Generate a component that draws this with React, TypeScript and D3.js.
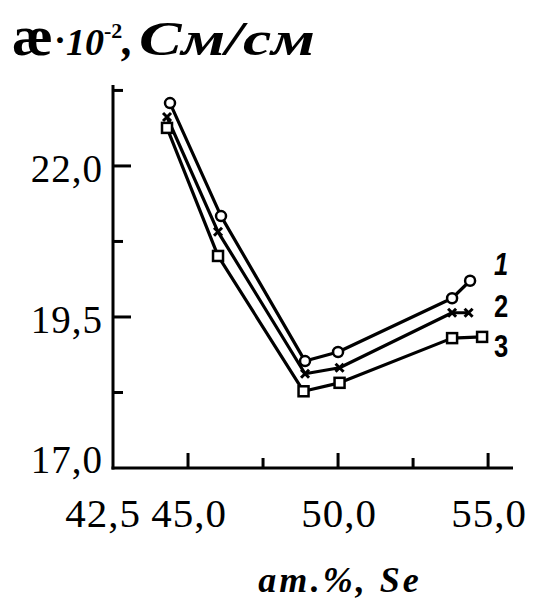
import React, { useEffect, useRef } from "react";
import * as d3 from "d3";

// composition, at.% Se, and conductivity (x 10^-2 S/cm) for the three curves
const se1 = [44.4, 46.1, 48.9, 50.0, 53.8, 54.4];
const cond1 = [23.04, 21.17, 18.77, 18.92, 19.81, 20.1];
const se2 = [44.3, 46.0, 48.9, 50.05, 53.8, 54.35];
const cond2 = [22.81, 20.91, 18.56, 18.66, 19.57, 19.57];
const se3 = [44.3, 46.0, 48.85, 50.05, 53.8, 54.8];
const cond3 = [22.63, 20.51, 18.27, 18.41, 19.15, 19.17];

const curveNames = ["1", "2", "3"];
const yTicks = [17.0, 19.5, 22.0];
const yMinorTicks = [18.25, 20.75, 23.25];
const xTicks = [42.5, 45.0, 50.0, 55.0];
const xTickMarks = [45.0, 47.5, 50.0, 52.5, 55.0];

const fmt = (v: number) => v.toFixed(1).replace(".", ",");

const App = () => {
  const ref = useRef<SVGSVGElement>(null);

  useEffect(() => {
    const svg = d3.select(ref.current);
    svg.selectAll("*").remove();

    const x = d3.scaleLinear().domain([42.5, 55.83]).range([113, 513]);
    const y = d3.scaleLinear().domain([17, 23.34]).range([468, 85]);

    const serif = "'Liberation Serif', 'Times New Roman', serif";

    // title: æ·10^-2, См/см
    svg.append("text")
      .attr("x", 12).attr("y", 55)
      .attr("font-family", serif).attr("font-weight", "bold")
      .attr("font-size", 58)
      .attr("textLength", 41).attr("lengthAdjust", "spacingAndGlyphs")
      .attr("fill", "#000")
      .text("æ");
    const mid = svg.append("text")
      .attr("x", 54).attr("y", 55)
      .attr("font-family", serif).attr("font-weight", "bold")
      .attr("fill", "#000");
    mid.append("tspan").attr("font-size", 36).attr("dy", -3).text("·");
    mid.append("tspan").attr("font-size", 38).attr("font-style", "italic").attr("dy", 3).text("10");
    mid.append("tspan").attr("font-size", 22).attr("dy", -17).text("-2");
    mid.append("tspan").attr("font-size", 44).attr("font-style", "italic").attr("dy", 17).text(",");
    svg.append("text")
      .attr("x", 139).attr("y", 55)
      .attr("font-family", serif).attr("font-weight", "bold").attr("font-style", "italic")
      .attr("font-size", 48)
      .attr("textLength", 176).attr("lengthAdjust", "spacingAndGlyphs")
      .attr("fill", "#000")
      .text("См/см");

    // axes lines
    svg.append("line")
      .attr("x1", x(42.5)).attr("x2", x(42.5))
      .attr("y1", y(23.34)).attr("y2", y(17) + 1.5)
      .attr("stroke", "#000").attr("stroke-width", 3);
    svg.append("line")
      .attr("x1", x(42.5) - 1.5).attr("x2", x(55.83))
      .attr("y1", y(17)).attr("y2", y(17))
      .attr("stroke", "#000").attr("stroke-width", 3);

    // y ticks (inward)
    svg.selectAll(".ytick")
      .data(yTicks.filter(d => d > 17))
      .enter().append("line")
      .attr("x1", x(42.5)).attr("x2", x(42.5) + 18)
      .attr("y1", d => y(d)).attr("y2", d => y(d))
      .attr("stroke", "#000").attr("stroke-width", 3);
    svg.selectAll(".yminor")
      .data(yMinorTicks)
      .enter().append("line")
      .attr("x1", x(42.5)).attr("x2", x(42.5) + 10)
      .attr("y1", d => y(d)).attr("y2", d => y(d))
      .attr("stroke", "#000").attr("stroke-width", 3);
    svg.selectAll(".ylabel")
      .data(yTicks)
      .enter().append("text")
      .attr("x", 103)
      .attr("y", d => (d === 17 ? y(d) + 5 : y(d) + 16))
      .attr("text-anchor", "end")
      .attr("font-family", serif)
      .attr("font-size", 39)
      .attr("letter-spacing", 1)
      .attr("fill", "#000")
      .text(d => fmt(d));

    // x ticks (inward)
    svg.selectAll(".xtick")
      .data(xTickMarks)
      .enter().append("line")
      .attr("x1", d => x(d)).attr("x2", d => x(d))
      .attr("y1", y(17)).attr("y2", d => y(17) - (d % 5 === 0 ? 15 : 10))
      .attr("stroke", "#000").attr("stroke-width", 3);
    svg.selectAll(".xlabel")
      .data(xTicks)
      .enter().append("text")
      .attr("x", d => (d === 42.5 ? x(d) - 10 : x(d) + 1))
      .attr("y", 527)
      .attr("text-anchor", "middle")
      .attr("font-family", serif)
      .attr("font-size", 41)
      .attr("letter-spacing", 1)
      .attr("fill", "#000")
      .text(d => fmt(d));

    // x axis title
    svg.append("text")
      .attr("x", 340)
      .attr("y", 592)
      .attr("text-anchor", "middle")
      .attr("font-family", serif)
      .attr("font-size", 36)
      .attr("font-weight", "bold")
      .attr("font-style", "italic")
      .attr("letter-spacing", 3)
      .attr("fill", "#000")
      .text("ат.%, Se");

    // curves
    const series = [
      { xs: se1, ys: cond1, marker: "circle" },
      { xs: se2, ys: cond2, marker: "cross" },
      { xs: se3, ys: cond3, marker: "square" },
    ];
    const line = d3.line<[number, number]>()
      .x(d => x(d[0]))
      .y(d => y(d[1]));

    series.forEach((s, i) => {
      const pts: [number, number][] = s.xs.map((v, j) => [v, s.ys[j]]);
      svg.append("path")
        .attr("d", line(pts))
        .attr("fill", "none")
        .attr("stroke", "#000")
        .attr("stroke-width", 3.2)
        .attr("stroke-linejoin", "round");

      const g = svg.append("g");
      pts.forEach(p => {
        const cx = x(p[0]);
        const cy = y(p[1]);
        if (s.marker === "circle") {
          g.append("circle")
            .attr("cx", cx).attr("cy", cy).attr("r", 5)
            .attr("fill", "#fff").attr("stroke", "#000").attr("stroke-width", 2.5);
        } else if (s.marker === "square") {
          g.append("rect")
            .attr("x", cx - 5).attr("y", cy - 5).attr("width", 10).attr("height", 10)
            .attr("fill", "#fff").attr("stroke", "#000").attr("stroke-width", 2.5);
        } else {
          g.append("path")
            .attr("d", `M${cx - 4},${cy - 4}L${cx + 4},${cy + 4}M${cx - 4},${cy + 4}L${cx + 4},${cy - 4}`)
            .attr("stroke", "#000").attr("stroke-width", 3);
        }
      });

      const last = pts[pts.length - 1];
      const dy = [-6, 4, 20][i];
      svg.append("text")
        .attr("x", 0)
        .attr("y", 0)
        .attr("transform", `translate(${x(55.0) + 6},${y(last[1]) + dy}) scale(0.8,1)`)
        .attr("font-family", "'Liberation Sans', Arial, sans-serif")
        .attr("font-size", 32)
        .attr("font-weight", "bold")
        .attr("font-style", i === 0 ? "italic" : "normal")
        .attr("fill", "#000")
        .text(curveNames[i]);
    });
  }, []);

  return (
    <svg
      ref={ref}
      width={536}
      height={600}
      style={{ position: "absolute", left: 0, top: 0, background: "#fff" }}
    />
  );
};

export default App;
